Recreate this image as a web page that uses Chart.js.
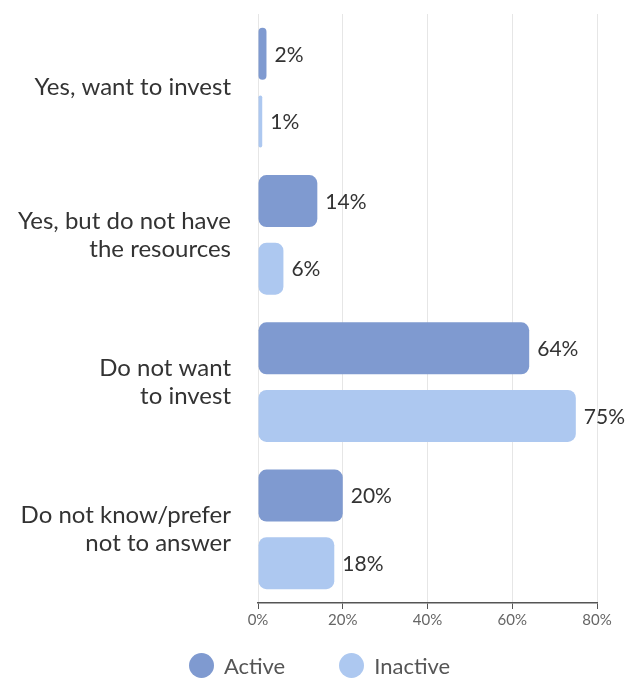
<!DOCTYPE html>
<html>
<head>
<meta charset="utf-8">
<script src="https://cdn.jsdelivr.net/npm/chart.js@4/dist/chart.umd.min.js"></script>
<style>
  html, body { margin: 0; padding: 0; background: #fff; }
  #wrap { position: relative; width: 627px; height: 678px; }
  #legend {
    position: absolute; left: 0; top: 651px; width: 627px; height: 28px;
    display: flex; justify-content: center; align-items: center;
    padding-left: 12px; box-sizing: border-box;
    font-family: Lato, "Open Sans", "DejaVu Sans", sans-serif;
    font-size: 22px; color: #555555;
  }
  #legend .item { display: flex; align-items: center; margin: 0 27px; }
  #legend .dot { width: 25px; height: 25px; border-radius: 50%; margin-right: 10px; }
</style>
</head>
<body>
<div id="wrap">
  <canvas id="chart" width="627" height="678"></canvas>
  <div id="legend"></div>
</div>
<script>
// Survey answers: share of respondents (%) by investment intention
const categories = [
  'Yes, want to invest',
  ['Yes, but do not have', 'the resources'],
  ['Do not want', 'to invest'],
  ['Do not know/prefer', 'not to answer']
];
const seriesNames = ['Active', 'Inactive'];
const activeValues = [2, 14, 64, 20];
const inactiveValues = [1, 6, 75, 18];
const xTicks = [0, 20, 40, 60, 80];

const FONT = 'Lato, "Open Sans", "DejaVu Sans", sans-serif';

// Writes the percentage just past the end of every bar
const valueLabels = {
  id: 'valueLabels',
  afterDatasetsDraw(chart) {
    const ctx = chart.ctx;
    ctx.save();
    ctx.font = '21px ' + FONT;
    ctx.fillStyle = '#333333';
    ctx.textAlign = 'left';
    ctx.textBaseline = 'middle';
    chart.data.datasets.forEach((ds, di) => {
      const meta = chart.getDatasetMeta(di);
      meta.data.forEach((bar, i) => {
        ctx.fillText(ds.data[i] + '%', bar.x + 8, bar.y + 1);
      });
    });
    ctx.restore();
  }
};

// Builds the legend under the canvas from the chart's own legend items
const htmlLegend = {
  id: 'htmlLegend',
  afterUpdate(chart) {
    const box = document.getElementById('legend');
    box.innerHTML = '';
    const items = chart.options.plugins.legend.labels.generateLabels(chart);
    items.forEach(item => {
      const el = document.createElement('span');
      el.className = 'item';
      const dot = document.createElement('span');
      dot.className = 'dot';
      dot.style.background = item.fillStyle;
      el.appendChild(dot);
      el.appendChild(document.createTextNode(item.text));
      box.appendChild(el);
    });
  }
};

new Chart(document.getElementById('chart'), {
  type: 'bar',
  data: {
    labels: categories,
    datasets: [
      { label: seriesNames[0], data: activeValues, backgroundColor: '#7f9ad0' },
      { label: seriesNames[1], data: inactiveValues, backgroundColor: '#adc8f0' }
    ]
  },
  options: {
    indexAxis: 'y',
    responsive: false,
    animation: false,
    devicePixelRatio: 1,
    layout: { padding: { top: 14, right: 30, bottom: 45, left: 0 } },
    datasets: {
      bar: {
        categoryPercentage: 0.918,
        barPercentage: 0.77,
        borderRadius: 8,
        borderSkipped: false
      }
    },
    scales: {
      x: {
        min: xTicks[0],
        max: xTicks[xTicks.length - 1],
        afterBuildTicks(scale) {
          scale.ticks = xTicks.map(v => ({ value: v }));
        },
        afterFit(scale) { scale.height = 30; },
        grid: {
          color: '#e6e6e6',
          lineWidth: 1,
          tickColor: '#555555',
          tickLength: 6,
          drawTicks: true
        },
        border: { display: true, color: '#555555', width: 1.5 },
        ticks: {
          color: '#666666',
          font: { family: FONT, size: 15 },
          padding: 2,
          maxRotation: 0,
          autoSkip: false,
          callback: v => v + '%'
        }
      },
      y: {
        // invisible tick marks keep a gap between the labels and the bars
        grid: {
          display: true,
          drawOnChartArea: false,
          drawTicks: true,
          tickLength: 27,
          tickColor: 'rgba(0,0,0,0)'
        },
        border: { display: false },
        afterFit(scale) {
          scale.width = 258;
          // labels sit at category centres, so no extra room above/below
          scale.paddingTop = 0;
          scale.paddingBottom = 0;
        },
        ticks: {
          color: '#333333',
          font: { family: FONT, size: 24, lineHeight: 1.17 },
          padding: 0
        }
      }
    },
    plugins: {
      legend: { display: false },
      tooltip: { enabled: false }
    }
  },
  plugins: [valueLabels, htmlLegend]
});
</script>
</body>
</html>
